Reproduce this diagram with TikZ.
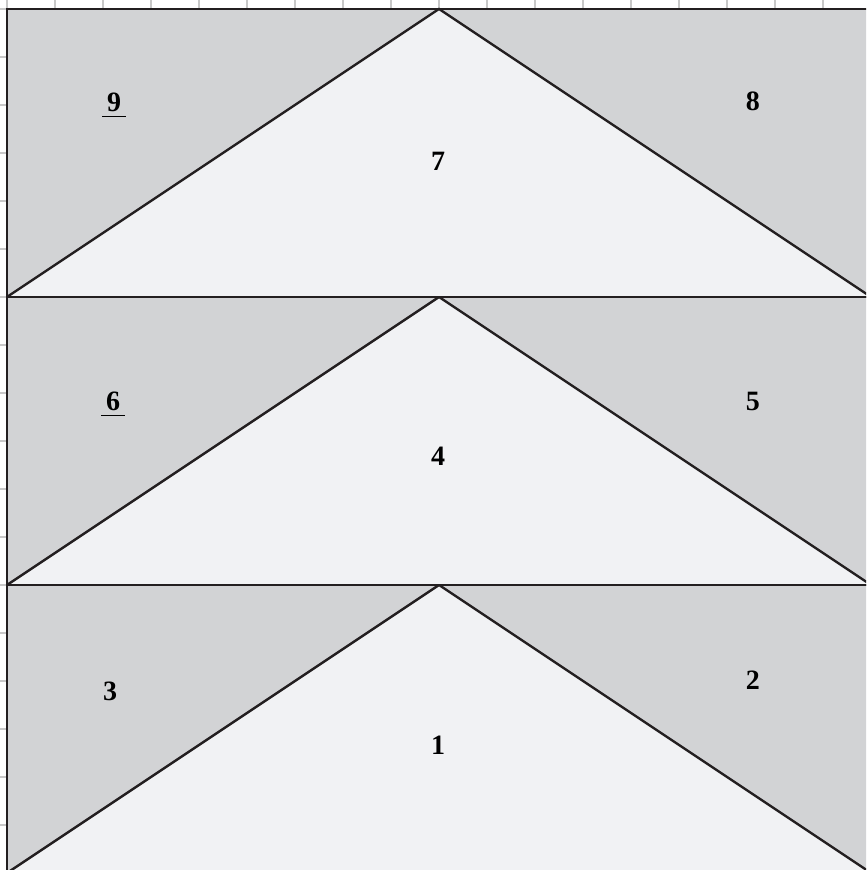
\documentclass[tikz,border=0pt]{standalone}
\usepackage{fontspec}
\setmainfont{Liberation Serif}
\usepackage{tikz}

\definecolor{patchdark}{RGB}{210,211,213}
\definecolor{patchlight}{RGB}{241,242,244}
\definecolor{seamline}{RGB}{35,31,32}
\definecolor{gridtick}{RGB}{200,200,200}

\begin{document}
\begin{tikzpicture}[
  x=0.5cm, y=0.5cm,
  dark/.style={fill=patchdark},
  light/.style={fill=patchlight},
  seam/.style={draw=seamline, line width=0.7pt, line join=miter},
  tick/.style={draw=gridtick, line width=0.45pt},
  piece/.style={font=\fontsize{8.3}{10}\selectfont\bfseries, inner sep=0pt}
]

% frame of the picture (block is clipped at right and bottom)
\useasboundingbox (-0.146,0.0625) rectangle (17.896,18.1875);
\clip (-0.146,0.0625) rectangle (17.896,18.1875);

% ===================== grid ticks =====================
\foreach \k in {0,...,17} {
  \draw[tick] (\k,18) -- (\k,18.1875);
  \draw[tick] (-0.146,18-\k) -- (0,18-\k);
}

% ===================== three flying-geese rows =====================
\foreach \y in {0,6,12} {
  \fill[light] (0,\y) -- (18,\y) -- (9,\y+6) -- cycle;
  \fill[dark]  (0,\y) -- (9,\y+6) -- (0,\y+6) -- cycle;
  \fill[dark]  (18,\y) -- (18,\y+6) -- (9,\y+6) -- cycle;
  \draw[seam] (0,\y) -- (9,\y+6) -- (18,\y);
  \draw[seam] (0,\y) rectangle (18,\y+6);
}

% ===================== piece numbers =====================
\node[piece] (p9) at (2.23,15.98) {\underline{\,9\,}};
\node[piece] (p8) at (15.54,16.08) {8};
\node[piece] (p7) at (8.98,14.83) {7};

\node[piece] (p6) at (2.21,9.76) {\underline{\,6\,}};
\node[piece] (p5) at (15.54,9.83) {5};
\node[piece] (p4) at (8.98,8.69) {4};

\node[piece] (p3) at (2.15,3.79) {3};
\node[piece] (p2) at (15.54,4.02) {2};
\node[piece] (p1) at (8.98,2.67) {1};

\end{tikzpicture}
\end{document}
